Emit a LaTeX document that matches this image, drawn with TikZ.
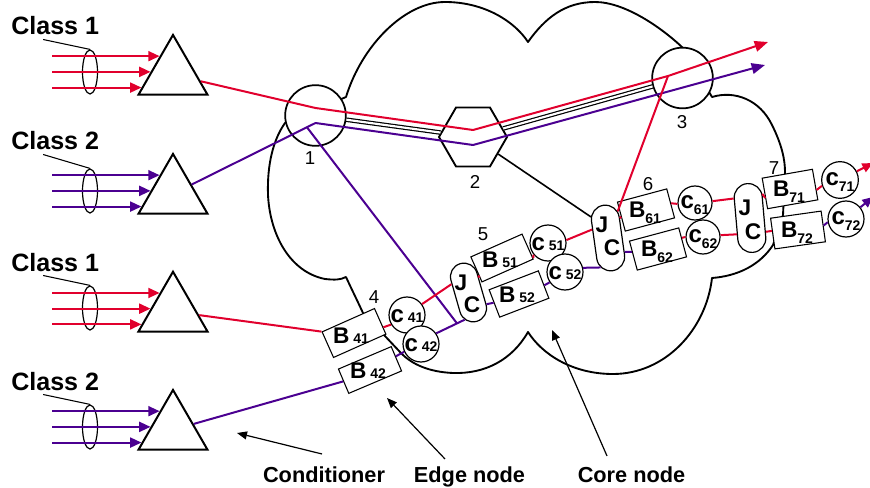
\documentclass[tikz,border=0pt]{standalone}
\usepackage{fontspec}
\setmainfont{Liberation Sans}
\usetikzlibrary{shapes.geometric,shapes.misc,arrows.meta,calc}
\definecolor{cred}{RGB}{225,0,45}
\definecolor{cpur}{RGB}{75,0,145}
\newcommand{\lowsubA}[1]{\,{\fontsize{10.5}{10}\selectfont\bfseries #1}}
\newcommand{\lowsubB}[1]{\raisebox{-4.5pt}{\fontsize{10.5}{10}\selectfont\bfseries #1}}
\begin{document}
\begin{tikzpicture}[x=0.75pt,y=-0.75pt,
  cloudline/.style={line width=1.4pt, line join=round},
  tri/.style={regular polygon, regular polygon sides=3, draw, line width=1.5pt, minimum size=59.8pt, inner sep=0pt, fill=white},
  grp/.style={ellipse, draw, line width=0.9pt, minimum width=11.25pt, minimum height=33pt, inner sep=0pt},
  router/.style={circle, draw, line width=1.3pt, minimum size=45.5pt, inner sep=0pt, fill=white},
  hexa/.style={regular polygon, regular polygon sides=6, draw, line width=1.4pt, minimum size=51pt, inner sep=0pt, fill=white},
  bbox/.style={rectangle, draw, line width=0.8pt, fill=white, inner sep=0pt},
  cnode/.style={circle, draw, line width=0.9pt, fill=white, inner sep=0pt},
  jcbox/.style={rounded rectangle, draw, line width=0.9pt, fill=white, inner sep=0pt},
  cls/.style={font=\fontsize{18.8}{20}\selectfont\bfseries, anchor=base west, inner sep=0pt},
  btm/.style={font=\fontsize{16.3}{18}\selectfont\bfseries, anchor=base, inner sep=0pt},
  num/.style={font=\fontsize{14}{14}\selectfont, inner sep=0pt},
  big/.style={font=\fontsize{17}{17}\selectfont\bfseries, inner sep=0pt},
  bigc/.style={font=\fontsize{18}{17}\selectfont\bfseries, inner sep=0pt},
  redline/.style={draw=cred, line width=1.5pt, line join=round},
  purline/.style={draw=cpur, line width=1.5pt, line join=round},
  thinline/.style={line width=0.8pt},
  blkline/.style={line width=1.2pt},
  lead/.style={line width=0.9pt, -{Triangle[length=7.5pt,width=6pt]}},
  bigtip/.style={-{Triangle[length=10pt,width=8pt]}},
  smalltip/.style={-{Triangle[length=8pt,width=7pt]}},
  clstip/.style={-{Triangle[length=8.5pt,width=7.5pt]}},
  dbl/.style={draw=black, line width=0.9pt, double=white, double distance=1.6pt},
]
\useasboundingbox (0,0) rectangle (870,488);

% cloud
\draw[cloudline] (346,97) .. controls (362,45) and (405,2) .. (445,2)
 .. controls (485,2) and (515,22) .. (528,42)
 .. controls (545,18) and (565,2) .. (595,2)
 .. controls (625,2) and (662,28) .. (683,48)
 -- (712,97)
 .. controls (735,90) and (760,100) .. (772,125)
 .. controls (782,145) and (785,160) .. (785,172)
 -- (783,215) -- (773,245)
 .. controls (760,265) and (738,276) .. (712,278)
 .. controls (706,330) and (665,374) .. (613,374)
 .. controls (572,374) and (542,354) .. (528,332)
 .. controls (512,360) and (485,374) .. (453,373)
 .. controls (430,372) and (412,365) .. (400,352)
 -- (384,335) -- (363,313)
 .. controls (357,300) and (352,290) .. (346,277)
 .. controls (340,280) and (335,280) .. (325,279)
 .. controls (290,272) and (270,235) .. (268,195)
 .. controls (267,165) and (273,140) .. (285,123)
 -- cycle;

% classes
\node[cls] (cl1) at (11,35) {Class 1};
\node[cls] (cl2) at (11,150) {Class 2};
\node[cls] (cl3) at (11,271) {Class 1};
\node[cls] (cl4) at (11,390) {Class 2};
\node[grp] (e1) at (90,72) {};
\node[grp] (e2) at (90,191) {};
\node[grp] (e3) at (90,308) {};
\node[grp] (e4) at (90,427) {};
\node[tri] (tri1) at (173,74.8) {};
\node[tri] (tri2) at (173,193.8) {};
\node[tri] (tri3) at (173,311.6) {};
\node[tri] (tri4) at (173,429.8) {};
\coordinate (xs) at (52,0);
\foreach \g/\col in {1/cred,2/cpur,3/cred,4/cpur}{
  \draw[thinline] ($(cl\g.south)+(-12,4)$) -- (e\g.north);
  \foreach \f in {0.37,0.62,0.87}{
    \path ($(tri\g.corner 1)!\f!(tri\g.corner 2)$) coordinate (ae);
    \draw[draw=\col, line width=1.5pt, clstip] (xs |- ae) -- (ae);
  }
}

% core routers
\node[router] (n1) at (315.5,115.5) {};
\node[hexa] (n2) at (473,137) {};
\node[router] (n3) at (682.5,78) {};
\node[num] (l1) at (310,158) {1};
\node[num] (l2) at (475,182) {2};
\node[num] (l3) at (682,122) {3};

% chain nodes
\node[bbox, minimum width=43pt, minimum height=21pt, rotate=24] (b41) at (354,333) {};
\node[bbox, minimum width=43pt, minimum height=19.8pt, rotate=23] (b42) at (370,370) {};
\node[bbox, minimum width=42pt, minimum height=20.5pt, rotate=24] (b51) at (502,258) {};
\node[bbox, minimum width=39.5pt, minimum height=22pt, rotate=21] (b52) at (519,294) {};
\node[bbox, minimum width=38.25pt, minimum height=22.5pt, rotate=15] (b61) at (646,210) {};
\node[bbox, minimum width=38.25pt, minimum height=22.5pt, rotate=15] (b62) at (658,249) {};
\node[bbox, minimum width=38.25pt, minimum height=23.25pt, rotate=10] (b71) at (790,189) {};
\node[bbox, minimum width=38.25pt, minimum height=23.25pt, rotate=8] (b72) at (798,230) {};
\node[cnode, minimum size=27pt] (c41) at (407,315) {};
\node[cnode, minimum size=27pt] (c42) at (421,344) {};
\node[cnode, minimum size=27pt] (c51) at (548,243) {};
\node[cnode, minimum size=27pt] (c52) at (565,272) {};
\node[cnode, minimum size=25.5pt] (c61) at (695,203) {};
\node[cnode, minimum size=25.5pt] (c62) at (703,237) {};
\node[cnode, minimum size=27.5pt] (c71) at (840,180) {};
\node[cnode, minimum size=27pt] (c72) at (846,219) {};
\node[jcbox, minimum width=45pt, minimum height=20.25pt, rotate=106] (jc5) at (468.5,292.5) {};
\node[jcbox, minimum width=49.5pt, minimum height=21pt, rotate=98] (jc6) at (608,238) {};
\node[jcbox, minimum width=51.75pt, minimum height=21pt, rotate=95] (jc7) at (750,218) {};

% texts in chain
\node[big] (tb41) at ($(b41)+(-3,3)$) {B\lowsubA{41}};
\node[big] (tb42) at ($(b42)+(-2,1)$) {B\lowsubA{42}};
\node[big] (tb51) at ($(b51)+(-2,2)$) {B\lowsubA{51}};
\node[big] (tb52) at ($(b52)+(-2,1)$) {B\lowsubA{52}};
\node[big] (tb61) at ($(b61)+(-1,3)$) {B\lowsubB{61}};
\node[big] (tb62) at ($(b62)+(-1,3)$) {B\lowsubB{62}};
\node[big] (tb71) at ($(b71)+(-1,3)$) {B\lowsubB{71}};
\node[big] (tb72) at ($(b72)+(-1,3)$) {B\lowsubB{72}};
\node[bigc] (tc41) at ($(c41)+(0,1)$) {c\lowsubA{41}};
\node[bigc] (tc42) at ($(c42)+(0,1)$) {c\lowsubA{42}};
\node[bigc] (tc51) at ($(c51)+(0,1)$) {c\lowsubA{51}};
\node[bigc] (tc52) at ($(c52)+(0,1)$) {c\lowsubA{52}};
\node[bigc] (tc61) at ($(c61)+(0,2)$) {c\lowsubB{61}};
\node[bigc] (tc62) at ($(c62)+(0,2)$) {c\lowsubB{62}};
\node[bigc] (tc71) at ($(c71)+(0,2)$) {c\lowsubB{71}};
\node[bigc] (tc72) at ($(c72)+(0,2)$) {c\lowsubB{72}};
\node[big] (j5) at ($(jc5)+(-7.5,-9.5)$) {J};
\node[big] (k5) at ($(jc5)+(3.5,12.5)$) {C};
\node[big] (j6) at ($(jc6)+(-6,-13)$) {J};
\node[big] (k6) at ($(jc6)+(4,10)$) {C};
\node[big] (j7) at ($(jc7)+(-5,-10)$) {J};
\node[big] (k7) at ($(jc7)+(3,14)$) {C};
\node[num] (l4) at (374,297) {4};
\node[num] (l5) at (483,234) {5};
\node[num] (l6) at (648,184) {6};
\node[num] (l7) at (774,168) {7};

% flows through the core
\coordinate (r1) at ($(n1)+(0,-7.5)$);
\coordinate (r2) at ($(n2)+(0,-7)$);
\coordinate (r3) at ($(n3)+(-14.5,-2)$);
\coordinate (rout) at (768,42);
\coordinate (q1) at ($(n1)+(0,7.5)$);
\coordinate (q2) at ($(n2)+(0,8)$);
\coordinate (qout) at (765,65);
\draw[dbl] (n1) -- (n2);
\draw[dbl] (n2) -- (n3);
\draw[redline, bigtip] (tri1) -- (r1) -- (r2) -- (r3) -- (rout);
\draw[purline, bigtip] (tri2) -- (q1) -- (q2) -- (qout);
\draw[redline] (r3) -- (jc6.332);
\draw[blkline] (n2) -- (jc6.31);
\coordinate (pb0) at ($(tri2)!0.94!(q1)$);
\coordinate (pb1) at ($(c42.35)!0.73!(jc5.156)$);
\draw[purline] (pb0) -- (pb1);

% class 1 chain (red)
\draw[redline] (tri3) -- (b41.north west);
\draw[redline] (b41.347) -- (c41.211);
\draw[redline] (c41.36) -- (jc5.48);
\draw[redline] (jc5.314) -- (b51.197);
\draw[redline] (b51.336) -- (c51.219);
\draw[redline] (c51.9) -- (jc6.54);
\draw[redline] (jc6.323) -- (b61.183);
\draw[redline] (b61.0) -- (c61.183);
\draw[redline] (c61.6) -- (jc7.35);
\draw[redline] (jc7.328) -- (b71.190);
\draw[redline] (b71.348) -- (c71.198);
\coordinate (o71) at (873,163);
\draw[redline, smalltip] (c71) -- (o71);

% class 2 chain (purple)
\draw[purline] (tri4) -- (b42.west);
\draw[purline] (b42.5) -- (c42.205);
\draw[purline] (c42.35) -- (jc5.156);
\draw[purline] (jc5.221) -- (b52.178);
\draw[purline] (b52.358) -- (c52.214);
\draw[purline] (c52.13) -- (jc6.158);
\draw[purline] (jc6.222) -- (b62.171);
\draw[redline] (b62.10) -- (c62.180);
\draw[redline] (c62.6) -- (jc7.136);
\draw[redline] (jc7.224) -- (b72.174);
\draw[purline] (b72.2) -- (c72.190);
\coordinate (o72) at (873,197);
\draw[purline, smalltip] (c72) -- (o72);

% bottom labels
\node[btm] (lcond) at (324,482) {Conditioner};
\node[btm] (ledge) at (469.5,482) {Edge node};
\node[btm] (lcore) at (631.5,482) {Core node};
\coordinate (tipcond) at (237,433);
\coordinate (tipedge) at (387,398);
\coordinate (tipcore) at (552,330);
\draw[lead] ($(lcond.north)+(-2,-12)$) -- (tipcond);
\draw[lead] ($(ledge.north)+(-24.5,-7)$) -- (tipedge);
\draw[lead] ($(lcore.north)+(-24.5,-10)$) -- (tipcore);
\end{tikzpicture}
\end{document}
